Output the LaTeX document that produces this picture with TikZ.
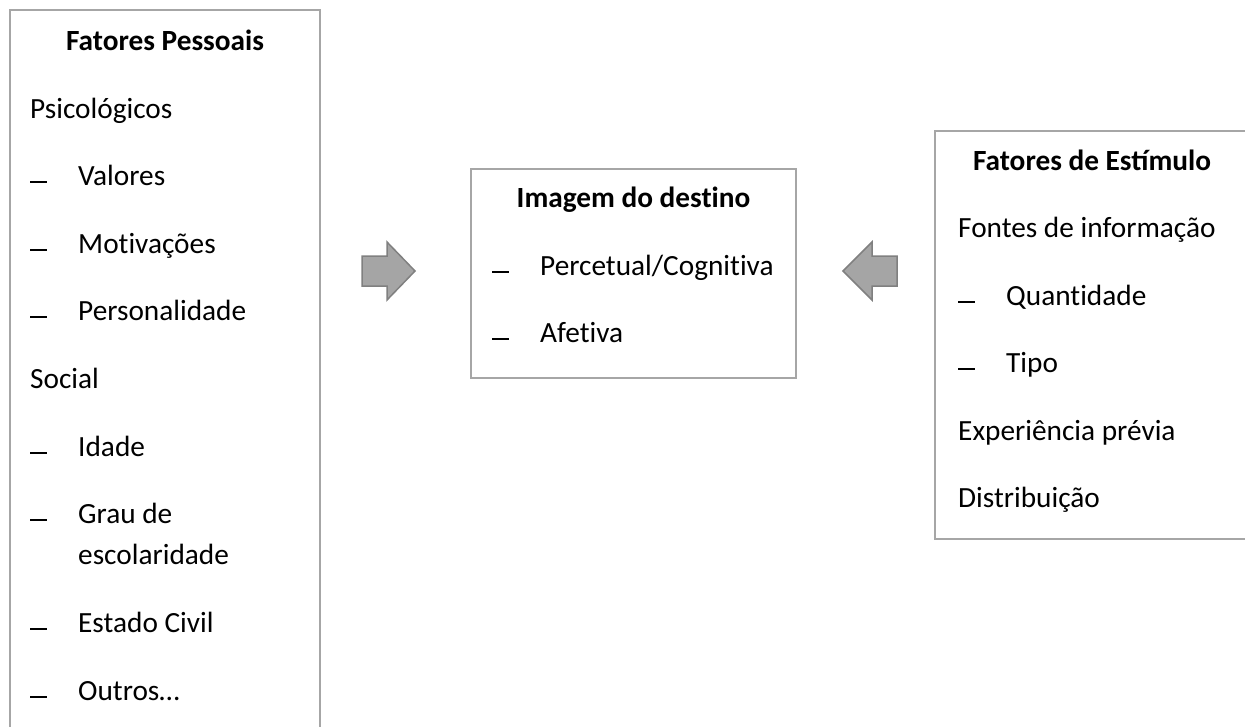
\documentclass[tikz,border=0pt]{standalone}
\usepackage{fontspec}
\setmainfont{Carlito}
\definecolor{caixa}{HTML}{A6A6A6}
\definecolor{setafill}{HTML}{A5A5A5}
\definecolor{setaborda}{HTML}{808080}
\newcommand{\traco}{\makebox[48pt][l]{\rule[2pt]{17pt}{2pt}}}
\newcommand{\semlig}{\kern0pt}% sem ligadura "ti"

\begin{document}
\begin{tikzpicture}[x=1pt,y=-1pt,
  every node/.style={inner sep=0pt,font=\fontsize{29.3}{41}\selectfont},
  txt/.style={anchor=base west},
  hd/.style={anchor=base,font=\fontsize{29.3}{41}\selectfont\bfseries},
  caixa/.style={draw=caixa,line width=2pt},
  seta/.style={fill=setafill,draw=setaborda,line width=1.5pt,line join=miter}]
 \useasboundingbox (0,0) rectangle (1245,726);
 % caixas
 \draw[caixa] (10,760)--(10,10)--(320,10)--(320,760);
 \draw[caixa] (471,169) rectangle (796,378);
 \draw[caixa] (1260,131)--(935,131)--(935,539)--(1260,539);
 % fatores pessoais
 \node[hd] (pess) at (165,50) {Fatores Pessoais};
 \node[txt] (psi) at (30,118) {Psicológicos};
 \node[txt] (val) at (30,185) {\traco Valores};
 \node[txt] (mot) at (30,253) {\traco Mot\semlig ivações};
 \node[txt] (pers) at (30,320) {\traco Personalidade};
 \node[txt] (soc) at (30,388) {Social};
 \node[txt] (ida) at (30,456) {\traco Idade};
 \node[txt] (grau) at (30,523) {\traco Grau de};
 \node[txt] (esc) at (78,564) {escolaridade};
 \node[txt] (civ) at (30,632) {\traco Estado Civil};
 \node[txt] (out) at (30,700) {\traco Outros…};
 % imagem do destino
 \node[hd] (img) at (633.5,207) {Imagem do dest\semlig ino};
 \node[txt] (perc) at (492,275) {\traco Percetual/Cognit\semlig iva};
 \node[txt] (afe) at (492,342) {\traco Afet\semlig iva};
 % fatores de estimulo
 \node[hd] (est) at (1092,170) {Fatores de Estímulo};
 \node[txt] (font) at (958,237) {Fontes de informação};
 \node[txt] (qua) at (958,305) {\traco Quant\semlig idade};
 \node[txt] (tip) at (958,372) {\traco Tipo};
 \node[txt] (exp) at (958,440) {Experiência prévia};
 \node[txt] (dis) at (958,507) {Distribuição};
 % setas
 \draw[seta] (362,256)--(387,256)--(387,242)--(415,271)--(387,300)--(387,286)--(362,286)--cycle;
 \draw[seta] (897,256)--(872,256)--(872,242)--(843,271)--(872,300)--(872,286)--(897,286)--cycle;
\end{tikzpicture}
\end{document}
